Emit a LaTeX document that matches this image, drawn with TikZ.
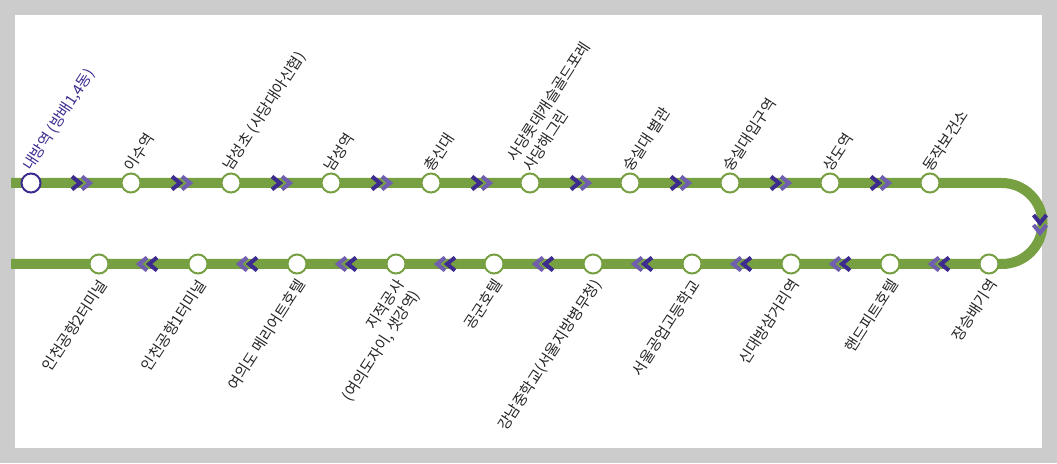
\documentclass[tikz,border=0pt]{standalone}
\usepackage{fontspec}
\setmainfont{Noto Sans CJK KR}
\definecolor{linegreen}{HTML}{77A042}
\definecolor{chevdark}{HTML}{3D2B8F}
\definecolor{chevlight}{HTML}{6F5FAE}
\definecolor{bordergrey}{HTML}{CCCCCC}
\tikzset{
  station/.style={circle, draw=linegreen, fill=white, line width=2pt, minimum size=19pt, inner sep=0pt},
  toplabel/.style={anchor=south west, rotate=57, font=\fontsize{15}{19}\selectfont, text=black!85, inner sep=1pt, align=left},
  botlabel/.style={anchor=north east, rotate=57, font=\fontsize{15}{19}\selectfont, text=black!85, inner sep=1pt, align=right},
  chev/.pic={
    \draw[chevlight, line width=4pt] (0,6.5) -- (8,0) -- (0,-6.5);
    \draw[chevdark, line width=4pt] (-10,6.5) -- (-2,0) -- (-10,-6.5);
  }
}
\begin{document}
\begin{tikzpicture}[x=1pt,y=1pt]
  \fill[bordergrey] (0,0) rectangle (1057,463);
  \fill[white] (15,15) rectangle (1042,448);
  \useasboundingbox (0,0) rectangle (1057,463);

  % route line
  \draw[linegreen, line width=10pt] (11,280) -- (1002,280) arc[start angle=90, end angle=-90, radius=40.5] -- (11,199);

  % direction marks
  \foreach \x in {82,182,282,382,482,581,681,781,881}
    \pic at (\x,280) {chev};
  \foreach \x in {147,247,346,445,543,642,741,840,939}
    \pic[rotate=180] at (\x,199) {chev};
  \pic[rotate=-90] at (1040,238) {chev};

  % upper stations
  \foreach \x/\name/\txt in {
      131/s2/이수역, 231/s3/남성초 (사당대아신협), 331/s4/남성역, 431/s5/총신대,
      530/s6/{사당롯데캐슬골드포레\\사당해그린}, 630/s7/숭실대 별관, 730/s8/숭실대입구역,
      830/s9/상도역, 930/s10/동작보건소} {
    \node[station] (\name) at (\x,280) {};
    \node[toplabel] at ([shift={(3,8)}]\name.center) {\txt};
  }
  \node[station, draw=chevdark] (s1) at (31,280) {};
  \node[toplabel, text=chevdark] at ([shift={(3,8)}]s1.center) {내방역 (방배1,4동)};

  % lower stations
  \foreach \x/\name/\txt in {
      989/s11/장승배기역, 890/s12/핸드피트호텔, 791/s13/신대방삼거리역,
      692/s14/서울공업고등학교, 593/s15/강남중학교(서울지방병무청), 494/s16/공군호텔,
      396/s17/{지적공사\\(여의도자이, 샛강역)}, 297/s18/여의도 메리어트호텔,
      198/s19/인천공항1터미널, 99/s20/인천공항2터미널} {
    \node[station] (\name) at (\x,199) {};
    \node[botlabel] at ([shift={(-2,-12)}]\name.center) {\txt};
  }
\end{tikzpicture}
\end{document}
